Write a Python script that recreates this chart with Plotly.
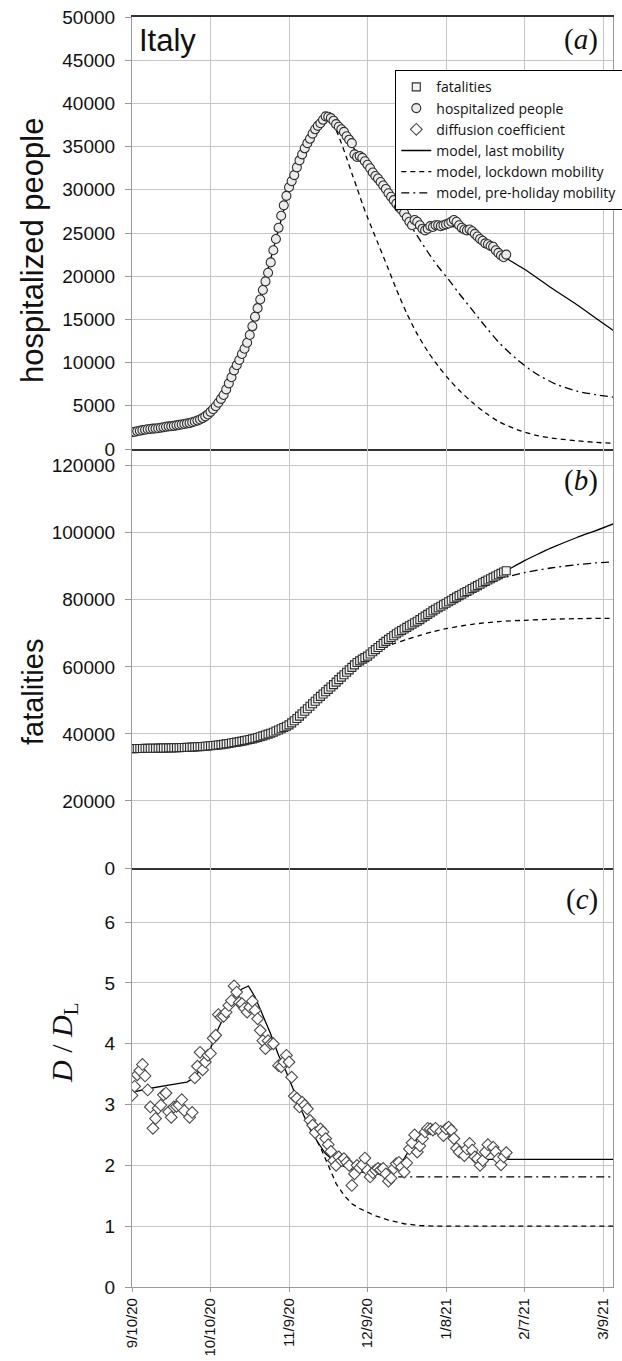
import plotly.graph_objects as go
from datetime import datetime, timedelta

# ---------------- data ----------------
START = "2020-09-10"
X_TICK_LABELS = ["9/10/20", "10/10/20", "11/9/20", "12/9/20", "1/8/21", "2/7/21", "3/9/21"]
X_TICK_DAYS = [0, 30, 60, 90, 120, 150, 180]
X_END_DAY = 183.8

# hospitalized people, daily from 9/10/20
hosp = [1930, 1990, 2050, 2110, 2180, 2230, 2280, 2320, 2360, 2380,
        2400, 2460, 2510, 2570, 2620, 2640, 2680, 2740, 2790, 2840,
        2900, 2960, 3000, 3100, 3180, 3290, 3420, 3580, 3780, 4000,
        4300, 4600, 4950, 5350, 5800, 6250, 6900, 7600, 8300, 9100,
        9700, 10300, 11000, 11600, 12300, 13200, 14200, 15300, 16300, 17300,
        18400, 19400, 20400, 21600, 23000, 24300, 25600, 27000, 28200, 29300,
        30300, 31000, 31700, 32600, 33400, 34100, 34800, 35400, 35900, 36500,
        37000, 37400, 37700, 38100, 38500, 38450, 38300, 38000, 37600, 37300,
        37000, 36700, 36200, 35800, 35400, 34100, 33800, 33900, 33700, 33300,
        32900, 32500, 32000, 31600, 31300, 30900, 30500, 30100, 29600, 29200,
        28800, 28400, 28000, 27700, 27300, 26800, 26300, 25900, 26500, 26300,
        25900, 25500, 25300, 25500, 25800, 25700, 25900, 25900, 25800, 25900,
        26000, 26100, 26300, 26500, 26300, 25900, 25600, 25400, 25300, 25400,
        25200, 24900, 24600, 24300, 24100, 23800, 23700, 23500, 23400, 23000,
        22700, 22400, 22200, 22500]

# fatalities, daily from 9/10/20
fatal = [35600, 35615, 35630, 35645, 35660, 35675, 35690, 35705, 35720, 35735,
         35750, 35770, 35790, 35810, 35830, 35850, 35870, 35890, 35910, 35930,
         35950, 35990, 36030, 36070, 36110, 36160, 36210, 36250, 36300, 36380,
         36460, 36540, 36620, 36710, 36800, 36900, 37020, 37150, 37280, 37420,
         37560, 37700, 37850, 38010, 38170, 38350, 38520, 38700, 38930, 39170,
         39420, 39680, 39940, 40200, 40520, 40850, 41190, 41540, 41920, 42300,
         42700, 43300, 43950, 44600, 45300, 46000, 46750, 47500, 48250, 49000,
         49750, 50500, 51200, 51900, 52600, 53300, 54000, 54700, 55450, 56200,
         56950, 57650, 58400, 59100, 59850, 60600, 61300, 61800, 62300, 62750,
         63200, 63850, 64500, 65150, 65800, 66400, 67000, 67600, 68200, 68750,
         69300, 69900, 70400, 70850, 71300, 71800, 72250, 72700, 73150, 73600,
         74100, 74650, 75150, 75650, 76150, 76700, 77200, 77650, 78100, 78550,
         79000, 79450, 79900, 80350, 80800, 81250, 81650, 82100, 82500, 82950,
         83400, 83800, 84250, 84650, 85100, 85500, 85900, 86300, 86700, 87100,
         87500, 87900, 88300, 88700]

# diffusion coefficient D/DL (day offset, value)
diff_days = [0, 1, 2, 3, 4, 5, 6, 7, 8, 9, 10, 11, 12, 13, 14, 15, 16, 17, 18, 19, 20, 22, 23,
             24, 25, 26, 27, 28, 29, 30, 31, 32, 33, 34, 35, 36, 37, 38, 39, 40, 41, 42, 43,
             44, 45, 46, 47, 48, 49, 50, 51, 52, 53, 54, 56, 57, 58, 59, 60, 61, 62, 63, 64,
             65, 66, 67, 68, 69, 70, 72, 73, 74, 75, 76, 77, 78, 79, 80, 81, 82, 83, 84, 85,
             86, 87, 88, 89, 90, 91, 92, 93, 94, 95, 96, 97, 98, 99, 100, 101, 102, 103, 104,
             105, 106, 107, 108, 109, 110, 111, 112, 113, 114, 115, 116, 118, 119, 120, 121,
             122, 123, 124, 125, 127, 128, 129, 130, 131, 132, 133, 134, 135, 136, 138, 139,
             140, 141, 142, 143]
diff_vals = [3.15, 3.30, 3.49, 3.56, 3.66, 3.47, 3.24, 2.96, 2.61, 2.77, 2.94, 2.99, 3.16, 3.19,
             2.88, 2.79, 2.96, 2.97, 2.99, 3.08, 2.90, 2.79, 2.87,
             3.44, 3.63, 3.86, 3.57, 3.70, 3.81, 3.84, 4.09, 4.14, 4.48, 4.44, 4.45, 4.52, 4.63,
             4.71, 4.95, 4.85, 4.68, 4.66, 4.58,
             4.52, 4.60, 4.70, 4.55, 4.41, 4.22, 4.05, 3.92, 4.05, 4.00, 4.00, 3.64, 3.62, 3.70,
             3.81, 3.70, 3.45, 3.14, 3.10, 2.96,
             3.04, 2.99, 2.93, 2.74, 2.66, 2.54, 2.60, 2.55, 2.44, 2.34, 2.23, 2.08, 2.00, 2.14,
             2.08, 2.11, 2.05, 2.00, 1.67, 1.86,
             2.00, 1.96, 2.01, 2.12, 1.92, 1.81, 1.88, 1.92, 1.95, 1.93, 1.95, 1.86, 1.74, 1.79,
             1.95, 2.03, 2.05, 1.97, 1.89,
             2.04, 2.27, 2.37, 2.50, 2.22, 2.32, 2.44, 2.55, 2.61, 2.60, 2.58, 2.61, 2.56, 2.49,
             2.60, 2.63,
             2.58, 2.44, 2.28, 2.22, 2.16, 2.27, 2.36, 2.25, 2.14, 2.11, 2.00, 2.08, 2.22, 2.34,
             2.30, 2.22,
             2.11, 2.01, 2.14, 2.21]

# model curves (day offset, value)
hosp_last_days = [0, 10, 20, 25, 30, 33, 36, 40, 44, 48, 52, 56, 60, 64, 68, 72, 74, 76, 80, 85,
                  90, 95, 100, 105, 110, 115, 120, 125, 130, 135, 140, 143, 150, 160, 170, 177, 184]
hosp_last_vals = [1800, 2300, 2850, 3250, 4000, 4900, 6300, 9200, 12500, 16600, 20900, 25400, 29800,
                  33400, 36200, 38100, 38500, 38300, 37000, 34700, 32400, 30500, 28600, 27000, 25900,
                  25500, 25700, 25700, 25000, 24000, 22900, 22100, 20800, 18700, 16700, 15200, 13700]
hosp_lock_days = [74, 76, 78, 80, 82, 84, 86, 88, 90, 94, 98, 101, 105, 109, 113, 117, 121, 125,
                  130, 135, 140, 147, 155, 162, 170, 177, 184]
hosp_lock_vals = [38500, 38000, 36900, 35400, 33700, 31900, 30200, 28400, 26800, 23800, 20800, 18500,
                  15700, 13300, 11300, 9600, 8100, 6800, 5400, 4200, 3200, 2250, 1550, 1200, 950,
                  770, 650]
hosp_pre_days = [105, 107, 110, 113, 117, 121, 125, 130, 135, 140, 147, 154, 162, 170, 177, 184]
hosp_pre_vals = [26500, 25600, 24200, 22800, 21100, 19600, 18000, 16100, 14200, 12400, 10400, 8800,
                 7500, 6700, 6300, 6000]

fat_last_days = [0, 20, 30, 40, 47, 53, 60, 65, 71, 77, 83, 90, 95, 101, 109, 116, 120, 128, 135,
                 143, 150, 155, 160, 170, 177, 184]
fat_last_vals = [35200, 35400, 35800, 36700, 38000, 39900, 42700, 45900, 50400, 54600, 58900, 63100,
                 66300, 69700, 73400, 77000, 78800, 82300, 85300, 88700, 91700, 93600, 95400, 98600,
                 100600, 102700]
fat_lock_days = [90, 95, 100, 105, 110, 115, 120, 130, 140, 150, 160, 170, 184]
fat_lock_vals = [63100, 65300, 66900, 68200, 69400, 70500, 71400, 72700, 73500, 73900, 74200, 74400, 74500]
fat_pre_days = [126, 128, 132, 136, 140, 145, 150, 160, 170, 177, 184]
fat_pre_vals = [81600, 82400, 83900, 85100, 86100, 87200, 88100, 89500, 90500, 91000, 91300]

d_last_days = [0, 6, 14, 21, 24, 27, 30, 33, 36, 39, 42, 44.5, 47, 50, 53, 56, 59, 62, 65, 68, 71,
               74, 77, 80, 83, 86, 89, 92, 95, 98, 101, 104, 107, 110, 113, 116, 119, 122, 125,
               128, 131, 134, 184]
d_last_vals = [3.20, 3.26, 3.32, 3.37, 3.45, 3.64, 3.92, 4.25, 4.52, 4.79, 4.90, 4.95, 4.77, 4.47,
               4.16, 3.81, 3.53, 3.21, 2.88, 2.60, 2.38, 2.19, 2.08, 2.00, 1.95, 1.90, 1.88, 1.86,
               1.85, 1.88, 1.97, 2.11, 2.33, 2.49, 2.59, 2.61, 2.58, 2.44, 2.27, 2.16, 2.12, 2.10, 2.10]
d_lock_days = [69, 72, 75, 78, 81, 84, 87, 90, 93, 98, 104, 110, 116, 184]
d_lock_vals = [2.53, 2.30, 2.00, 1.70, 1.51, 1.37, 1.29, 1.23, 1.17, 1.10, 1.04, 1.01, 1.00, 1.00]
d_pre_days = [95, 98, 184]
d_pre_vals = [1.85, 1.81, 1.81]

# ---------------- helpers ----------------
T0 = datetime.strptime(START, "%Y-%m-%d")


def to_dates(days):
    return [T0 + timedelta(days=d) for d in days]


SANS = "Liberation Sans, Arial, sans-serif"
SERIF = "Liberation Serif, Times New Roman, serif"
LEGF = "Open Sans, sans-serif"
GRID = "#c6c6c6"
AXIS = "#9a9a9a"
DARK = "#333333"

fig = go.Figure()

LW = 1.3
line_styles = {
    "last": dict(color="black", width=LW, dash="solid"),
    "lock": dict(color="black", width=LW, dash="5px,4px"),
    "pre": dict(color="black", width=LW, dash="8px,4px,2px,4px"),
}
names = {
    "last": "model, last mobility",
    "lock": "model, lockdown mobility",
    "pre": "model, pre-holiday mobility",
}
ranks = {"last": 4, "lock": 5, "pre": 6}

# panel (a)
for key, dd, vv in [("lock", hosp_lock_days, hosp_lock_vals),
                    ("pre", hosp_pre_days, hosp_pre_vals),
                    ("last", hosp_last_days, hosp_last_vals)]:
    fig.add_trace(go.Scatter(x=to_dates(dd), y=vv, mode="lines",
                             line=dict(**line_styles[key], shape="spline", smoothing=0.8),
                             name=names[key], legendrank=ranks[key], showlegend=True,
                             xaxis="x", yaxis="y", hoverinfo="skip"))
fig.add_trace(go.Scatter(x=to_dates(range(len(hosp))), y=hosp, mode="markers",
                         marker=dict(symbol="circle", size=9, color="#ececec",
                                     line=dict(color="#2e2e2e", width=1.1)),
                         name="hospitalized people", legendrank=2, xaxis="x", yaxis="y"))

# panel (b)
for key, dd, vv in [("lock", fat_lock_days, fat_lock_vals),
                    ("pre", fat_pre_days, fat_pre_vals),
                    ("last", fat_last_days, fat_last_vals)]:
    fig.add_trace(go.Scatter(x=to_dates(dd), y=vv, mode="lines",
                             line=dict(**line_styles[key], shape="spline", smoothing=0.8),
                             showlegend=False, xaxis="x2", yaxis="y2", hoverinfo="skip"))
fig.add_trace(go.Scatter(x=to_dates(range(len(fatal))), y=fatal, mode="markers",
                         marker=dict(symbol="square", size=8, color="#f2f2f2",
                                     line=dict(color="#2e2e2e", width=1.1)),
                         name="fatalities", legendrank=1, xaxis="x2", yaxis="y2"))

# panel (c)
for key, dd, vv in [("lock", d_lock_days, d_lock_vals),
                    ("pre", d_pre_days, d_pre_vals),
                    ("last", d_last_days, d_last_vals)]:
    fig.add_trace(go.Scatter(x=to_dates(dd), y=vv, mode="lines", line=dict(**line_styles[key]),
                             showlegend=False, xaxis="x3", yaxis="y3", hoverinfo="skip"))
fig.add_trace(go.Scatter(x=to_dates(diff_days), y=diff_vals, mode="markers",
                         marker=dict(symbol="diamond", size=9, color="white",
                                     line=dict(color="#4a4a4a", width=1.1)),
                         name="diffusion coefficient", legendrank=3, xaxis="x3", yaxis="y3"))

# ---------------- axes ----------------
x_range = [T0, T0 + timedelta(days=X_END_DAY)]
tick_dates = to_dates(X_TICK_DAYS)

H_TOT = 1270.0
W_TOT = 481.0
dom_c = [0, 419 / H_TOT]
dom_b = [419 / H_TOT, 838 / H_TOT]
dom_a = [838 / H_TOT, 1]

common_x = dict(type="date", range=x_range, tickvals=tick_dates, ticktext=X_TICK_LABELS,
                showgrid=True, gridcolor=GRID, gridwidth=1, zeroline=False)

hosp_ticks = list(range(0, 50001, 5000))
fat_ticks = list(range(0, 120001, 20000))
d_ticks = [0, 1, 2, 3, 4, 5, 6]

common_y = dict(showgrid=True, gridcolor=GRID, gridwidth=1, zeroline=False,
                showline=True, linecolor=AXIS, linewidth=1.2, mirror=True,
                ticks="outside", ticklen=6, tickcolor=AXIS,
                tickfont=dict(family=SANS, size=19, color="#111"),
                ticklabelstandoff=6)

fig.update_layout(
    width=622, height=1361,
    margin=dict(l=132, r=9, t=17, b=74, autoexpand=False),
    paper_bgcolor="white", plot_bgcolor="white",
    showlegend=True,
    xaxis=dict(**common_x, domain=[0, 1], anchor="y", showticklabels=False,
               showline=True, linecolor=DARK, linewidth=1.5, mirror=True),
    xaxis2=dict(**common_x, domain=[0, 1], anchor="y2", showticklabels=False, matches="x",
                showline=True, linecolor=DARK, linewidth=1.5),
    xaxis3=dict(**common_x, domain=[0, 1], anchor="y3", matches="x",
                showline=True, linecolor=AXIS, linewidth=1.2,
                ticks="outside", ticklen=4, tickcolor=AXIS, tickangle=-90,
                ticklabelstandoff=0,
                tickfont=dict(family=SANS, size=15, color="#111")),
    yaxis=dict(**common_y, domain=dom_a, anchor="x", range=[0, 50000],
               tickvals=hosp_ticks, ticktext=[str(v) for v in hosp_ticks]),
    yaxis2=dict(**common_y, domain=dom_b, anchor="x2", range=[0, 125000],
                tickvals=fat_ticks, ticktext=[str(v) for v in fat_ticks]),
    yaxis3=dict(**common_y, domain=dom_c, anchor="x3", range=[0, 6.89],
                tickvals=d_ticks, ticktext=[str(v) for v in d_ticks]),
    legend=dict(x=(395 - 132) / W_TOT, y=(1287 - 70) / H_TOT, xanchor="left", yanchor="top",
                bgcolor="white", bordercolor="black", borderwidth=1.3,
                font=dict(family=LEGF, size=14, color="#111"),
                tracegroupgap=0, itemwidth=30),
)


def px_x(x):
    return (x - 132) / W_TOT


def px_y(y):
    return (1287 - y) / H_TOT


ann = [
    # y-axis titles
    dict(text="hospitalized people", x=px_x(33), y=px_y(251), textangle=-90,
         font=dict(family=SANS, size=31, color="#111")),
    dict(text="fatalities", x=px_x(33), y=px_y(692), textangle=-90,
         font=dict(family=SANS, size=29, color="#111")),
    dict(text="<i>D</i> / <i>D</i><sub>L</sub>", x=px_x(64), y=px_y(1043), textangle=-90,
         font=dict(family=SERIF, size=30, color="#111")),
    # panel labels
    dict(text="Italy", x=px_x(137), y=px_y(21), xanchor="left", yanchor="top",
         font=dict(family=SANS, size=31, color="#111")),
    dict(text="(<i>a</i>)", x=px_x(600), y=px_y(21), xanchor="right", yanchor="top",
         font=dict(family=SERIF, size=29, color="#111")),
    dict(text="(<i>b</i>)", x=px_x(600), y=px_y(462), xanchor="right", yanchor="top",
         font=dict(family=SERIF, size=29, color="#111")),
    dict(text="(<i>c</i>)", x=px_x(600), y=px_y(881), xanchor="right", yanchor="top",
         font=dict(family=SERIF, size=29, color="#111")),
]
for a in ann:
    a.update(xref="paper", yref="paper", showarrow=False)
    a.setdefault("xanchor", "center")
    a.setdefault("yanchor", "middle")
fig.update_layout(annotations=ann)

fig.write_html("out.html")
